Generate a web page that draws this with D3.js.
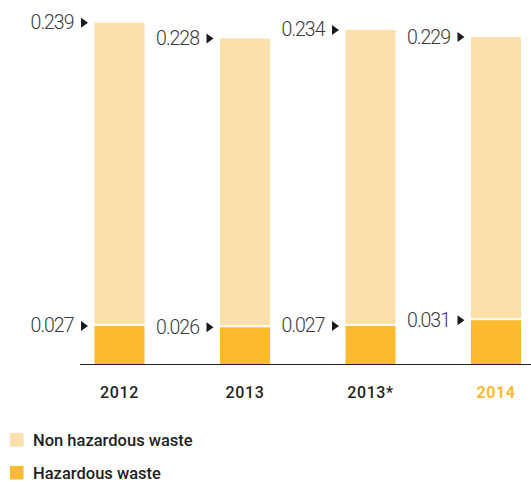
<!DOCTYPE html>
<html>
<head>
<meta charset="utf-8">
<script src="https://cdn.jsdelivr.net/npm/d3@7"></script>
<style>
  html, body { margin: 0; padding: 0; background: #fff; }
  svg { display: block; }
</style>
</head>
<body>
<svg id="chart" width="531" height="482"></svg>
<script>
// Waste generated per year (total and hazardous share)
const years = ["2012", "2013", "2013*", "2014"];
const totalWaste = [0.239, 0.228, 0.234, 0.229];
const hazardousWaste = [0.027, 0.026, 0.027, 0.031];
const legendLabels = ["Non hazardous waste", "Hazardous waste"];

const colors = { nonHazardous: "#FDDFAB", hazardous: "#FBBA2F", text: "#3a3a3a", dark: "#231f20" };

const svg = d3.select("#chart");
const baseline = 364.5;
const barWidth = 50;

const x = d3.scalePoint().domain(years).range([119.5, 496]);
const y = d3.scaleLinear().domain([0, 0.25]).range([baseline, baseline - 0.25 * 1430]);

const rows = years.map((yr, i) => ({ year: yr, total: totalWaste[i], hazardous: hazardousWaste[i] }));

const bars = svg.append("g");

// Non hazardous part, sitting on top of the hazardous part with a thin white gap
bars.selectAll("rect.non")
  .data(rows).join("rect")
  .attr("class", "non")
  .attr("x", d => x(d.year) - barWidth / 2)
  .attr("width", barWidth)
  .attr("y", d => y(d.total))
  .attr("height", d => y(d.hazardous) - 2 - y(d.total))
  .attr("fill", colors.nonHazardous);

bars.selectAll("rect.haz")
  .data(rows).join("rect")
  .attr("class", "haz")
  .attr("x", d => x(d.year) - barWidth / 2)
  .attr("width", barWidth)
  .attr("y", d => y(d.hazardous))
  .attr("height", d => baseline - y(d.hazardous))
  .attr("fill", colors.hazardous);

// Value callouts: number followed by a small arrowhead pointing at the bar
function callout(g, xLeft, yVal, label) {
  g.append("text")
    .attr("x", xLeft - 21)
    .attr("y", yVal + 6.5)
    .attr("text-anchor", "end")
    .attr("font-family", "Roboto, 'DejaVu Sans', sans-serif")
    .attr("font-weight", 300)
    .attr("font-size", 19.5)
    .attr("letter-spacing", "-1px")
    .attr("fill", colors.text)
    .text(label);
  g.append("path")
    .attr("d", `M${xLeft - 13.5},${yVal - 5} L${xLeft - 6.5},${yVal} L${xLeft - 13.5},${yVal + 5} Z`)
    .attr("fill", "#1a1a1a");
}

const labels = svg.append("g");
rows.forEach(d => {
  const left = x(d.year) - barWidth / 2;
  callout(labels, left, y(d.total), d3.format(".3f")(d.total));
  callout(labels, left, y(d.hazardous), d3.format(".3f")(d.hazardous));
});

// Baseline
svg.append("line")
  .attr("x1", 80).attr("x2", 531)
  .attr("y1", baseline).attr("y2", baseline)
  .attr("stroke", colors.dark)
  .attr("stroke-width", 1.2);

// Year labels
svg.append("g").selectAll("text")
  .data(years).join("text")
  .attr("x", d => x(d))
  .attr("y", 397.5)
  .attr("text-anchor", "middle")
  .attr("font-family", "Roboto, 'DejaVu Sans', sans-serif")
  .attr("font-weight", 500)
  .attr("font-size", 16)
  .attr("letter-spacing", "0.6px")
  .attr("fill", d => d === "2014" ? colors.hazardous : colors.dark)
  .style("font-weight", d => d === "2014" ? 700 : 500)
  .text(d => d);

// Legend
const legend = svg.append("g");
const legendColors = [colors.nonHazardous, colors.hazardous];
legendLabels.forEach((lbl, i) => {
  const top = 433 + i * 33;
  legend.append("rect")
    .attr("x", 10).attr("y", top)
    .attr("width", 13.5).attr("height", 13.5)
    .attr("fill", legendColors[i]);
  legend.append("text")
    .attr("x", 33)
    .attr("y", top + 12.5)
    .attr("font-family", "Roboto, 'DejaVu Sans', sans-serif")
    .attr("font-weight", 500)
    .attr("font-size", 16.5)
    .attr("fill", colors.dark)
    .text(lbl);
});
</script>
</body>
</html>
